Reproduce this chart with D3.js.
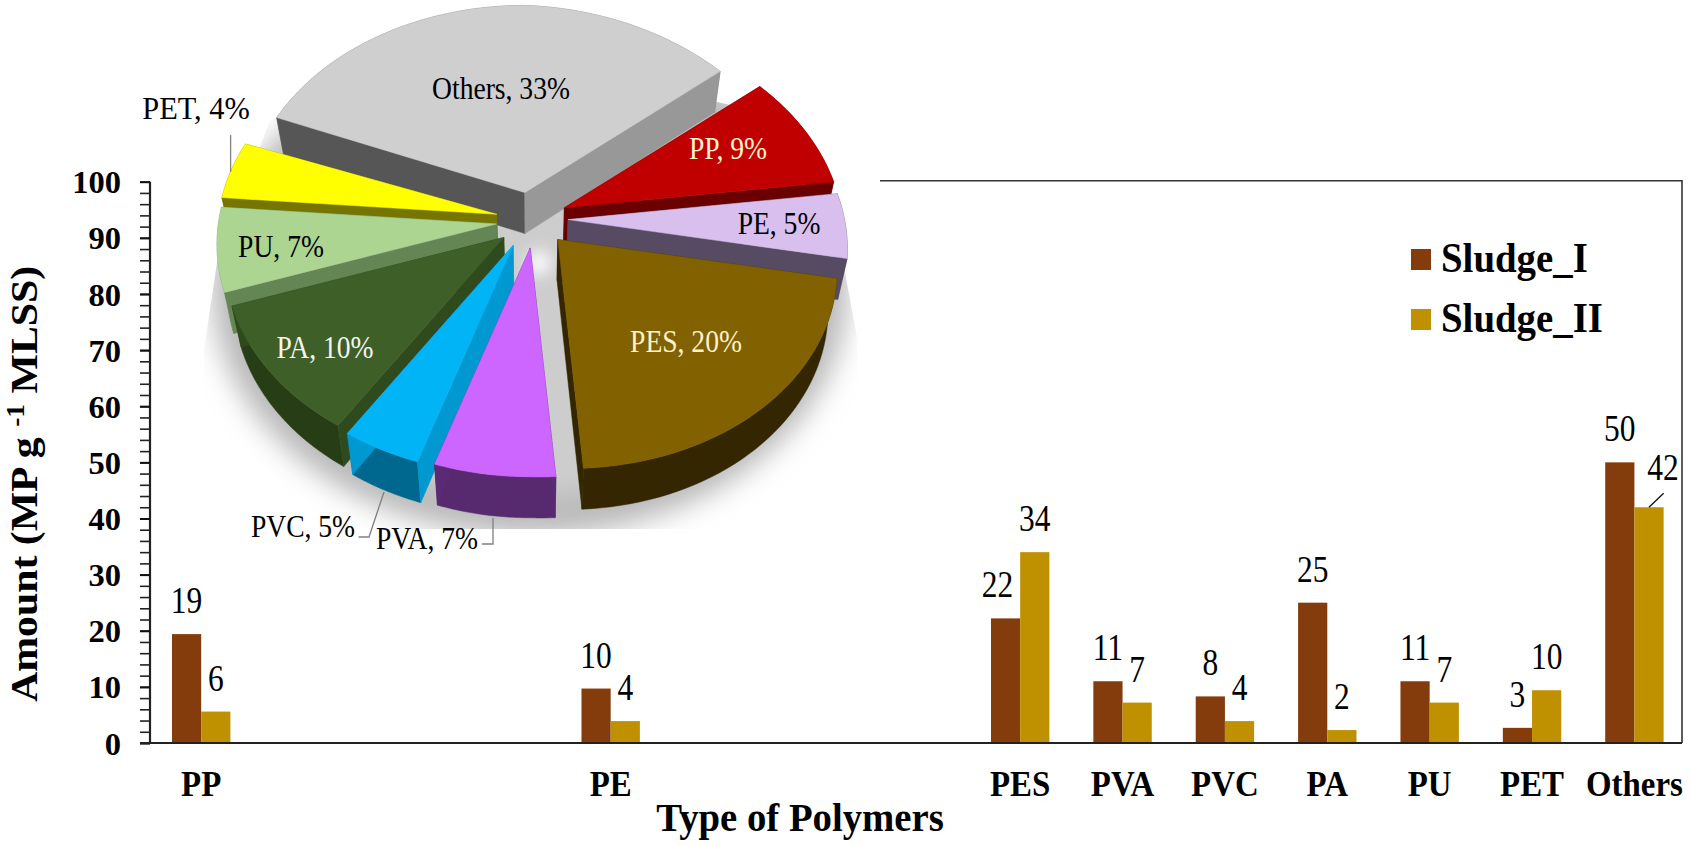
<!DOCTYPE html>
<html>
<head>
<meta charset="utf-8">
<script src="https://cdn.jsdelivr.net/npm/d3@7/dist/d3.min.js"></script>
<style>
html,body{margin:0;padding:0;background:#fff;overflow:hidden}
text{font-family:"Liberation Serif","Times New Roman",serif;fill:#000}
</style>
</head>
<body>
<svg id="c" width="1692" height="846"></svg>
<script>
// ---------- data ----------
const categories = ["PP","PE","PES","PVA","PVC","PA","PU","PET","Others"];
const categorySlots = [0,4,8,9,10,11,12,13,14];
const slotCount = 15;
const sludgeI  = [19.4, 9.7, 22.2, 11, 8.3, 25, 11, 2.7, 50];
const sludgeII = [5.6, 3.9, 34, 7.2, 3.9, 2.3, 7.2, 9.4, 42];
const labelsI  = ["19","10","22","11","8","25","11","3","50"];
const labelsII = ["6","4","34","7","4","2","7","10","42"];
const seriesNames = ["Sludge_I","Sludge_II"];
const yTicks = [0,10,20,30,40,50,60,70,80,90,100];
const yMinorTicks = d3.range(0,101,2);
const pieNames  = ["Others","PP","PE","PES","PVA","PVC","PA","PU","PET"];
const pieValues = [33,9,5,20,7,5,10,7,4];

// ---------- style / layout ----------
const svg = d3.select("#c");
const seriesColor = ["#843c0c","#bf9000"];
const plot = {l:150,r:1682,bandR:1685.6,t:181.7,b:743,frameStart:880};
const sliceStyle = {
  Others:{top:"#d0cfd0",start:"#565656",end:"#999899",outer:"#777",text:"#000",lx:501,ly:99},
  PP:{top:"#c00000",start:"#6b0000",end:"#6b0000",outer:"#6b0000",text:"#fff2cc",lx:728,ly:159},
  PE:{top:"#d8bfee",start:"#564b63",end:"#564b63",outer:"#564b63",text:"#000",lx:779,ly:234},
  PES:{top:"#826100",start:"#332600",end:"#332600",outer:"#332600",text:"#fff2cc",lx:686,ly:352},
  PVA:{top:"#cc66ff",start:"#5a2a75",end:"#5a2a75",outer:"#572a70",text:"#000",lx:427,ly:549},
  PVC:{top:"#00b4f6",start:"#0098d0",end:"#0098d0",outer:"#00688f",text:"#000",lx:303,ly:537,dx:-4},
  PA:{top:"#3e5f27",start:"#2f4a1d",end:"#2f4a1d",outer:"#263d15",text:"#f5f5f0",lx:325,ly:358},
  PU:{top:"#acd591",start:"#648554",end:"#648554",outer:"#7a9a68",text:"#000",lx:281,ly:257},
  PET:{top:"#ffff00",start:"#757500",end:"#757500",outer:"#757500",text:"#000",lx:196,ly:119,sx:0.98}
};
const paintOrder = ["Others","PP","PET","PU","PE","PA","PES","PVC","PVA"];
const pieGeom = {cx:532,cy:220,rx:278,ry:208,persp:0.1,ex:36,ey:28,depth:41,shrink:0.97,start:-71,tilt:9};
// correction of the drawn perspective, degrees of picture angle against true slice angle
const angleWarp = d3.scaleLinear()
  .domain([-71,48,80,100,170,195,213,249,275,289])
  .range([3,1,0,0,5,3,0,2,0,1.5]);

function label(g,str,x,y,size,opt={}){
  return g.append("text").text(str)
    .attr("transform",`translate(${x},${y}) scale(${opt.sx||1},1)`)
    .attr("text-anchor",opt.anchor||"middle")
    .attr("font-size",size)
    .attr("font-weight",opt.bold?"bold":"normal")
    .style("fill",opt.fill||"#000");
}

// ---------- scales ----------
const xSlot = d3.scaleBand().domain(d3.range(slotCount)).range([plot.l,plot.bandR]);
const y = d3.scaleLinear().domain([0,100]).range([plot.b,plot.t]);
const barW = 29.2;

// ---------- frame ----------
svg.append("path")
  .attr("d",`M${plot.frameStart},${plot.t-1}H${plot.r}V${plot.b}`)
  .attr("fill","none").attr("stroke","#333").attr("stroke-width",1.6);

// ---------- bars ----------
const rows = categories.map((c,i)=>({c,slot:categorySlots[i],a:sludgeI[i],b:sludgeII[i],la:labelsI[i],lb:labelsII[i]}));
const barG = svg.append("g");
rows.forEach(r=>{
  const mid = xSlot(r.slot)+xSlot.bandwidth()/2;
  barG.append("rect").attr("x",mid-barW).attr("width",barW).attr("y",y(r.a)).attr("height",y(0)-y(r.a)).attr("fill",seriesColor[0]);
  barG.append("rect").attr("x",mid).attr("width",barW).attr("y",y(r.b)).attr("height",y(0)-y(r.b)).attr("fill",seriesColor[1]);
  const nudgeA = r.c==="PES"?-8:0;
  const nudgeB = r.c==="Others"?14:0;
  const gapB = r.c==="Others"?27:21;
  label(barG,r.la,mid-barW/2+nudgeA,y(r.a)-21,37,{sx:0.85});
  label(barG,r.lb,mid+barW/2+nudgeB,y(r.b)-gapB,37,{sx:0.85});
  label(barG,r.c,mid,796,35,{bold:true,sx:0.94});
  if(r.c==="Others"){
    barG.append("line").attr("x1",mid+barW/2).attr("y1",y(r.b)).attr("x2",mid+barW).attr("y2",y(r.b)-14)
      .attr("stroke","#111").attr("stroke-width",1.3);
  }
});

// ---------- axes ----------
const axG = svg.append("g").attr("transform",`translate(${plot.l},0)`);
const minorAxis = d3.axisLeft(y).tickValues(yMinorTicks).tickSize(10).tickFormat("");
const majorAxis = d3.axisLeft(y).tickValues(yTicks).tickSize(10).tickPadding(19);
axG.append("g").call(minorAxis).call(g=>{g.select(".domain").remove();g.selectAll("line").attr("stroke","#222").attr("stroke-width",1.6)});
axG.append("g").call(majorAxis).call(g=>{
  g.select(".domain").attr("stroke","#222").attr("stroke-width",2.2).attr("d",`M0,${plot.t}V${plot.b}`);
  g.selectAll("line").attr("stroke","#111").attr("stroke-width",2);
  g.selectAll("text").attr("font-size",32.5).attr("font-weight","bold").attr("dy",".34em").style("font-family",'"Liberation Serif"').style("fill","#000");
});
svg.append("line").attr("x1",140).attr("x2",plot.r).attr("y1",plot.b).attr("y2",plot.b).attr("stroke","#222").attr("stroke-width",2.2);

// ---------- axis titles ----------
label(svg,"Type of Polymers",800,831,41,{bold:true,sx:0.945});
const yt = svg.append("text").attr("transform","translate(37,702) rotate(-90) scale(1.1,1)").attr("font-size",38).attr("font-weight","bold").attr("text-anchor","start");
yt.append("tspan").text("Amount (MP g ");
yt.append("tspan").text("-1").attr("font-size",25).attr("dy",-13);
yt.append("tspan").text(" MLSS)").attr("dy",13);

// ---------- legend ----------
const lg = svg.append("g");
seriesNames.forEach((n,i)=>{
  const ty = [272,332][i];
  lg.append("rect").attr("x",1411).attr("y",ty-23).attr("width",20).attr("height",21).attr("fill",seriesColor[i]);
  label(lg,n,1441,ty,42,{bold:true,anchor:"start",sx:0.925});
});

// ---------- 3D pie ----------
const defs = svg.append("defs");
defs.append("filter").attr("id","blurA").attr("x","-20%").attr("y","-20%").attr("width","140%").attr("height","140%")
  .append("feGaussianBlur").attr("stdDeviation",14);
defs.append("filter").attr("id","blurB").attr("x","-100%").attr("y","-100%").attr("width","300%").attr("height","300%")
  .append("feGaussianBlur").attr("stdDeviation",8);
defs.append("clipPath").attr("id","shClip").append("polygon")
  .attr("points","217,262 204,350 204,529 860,529 857,337 843,262 800,120 525,60 270,120");

const pieG = svg.append("g");
const shG = pieG.append("g").attr("clip-path","url(#shClip)");
shG.append("ellipse").attr("cx",530).attr("cy",288).attr("rx",318).attr("ry",248).attr("fill","#b8b8b8").attr("filter","url(#blurA)");
shG.append("ellipse").attr("cx",530).attr("cy",288).attr("rx",270).attr("ry",210).attr("fill","#cdcdcd").attr("filter","url(#blurA)");
pieG.append("circle").attr("cx",539).attr("cy",263).attr("r",12).attr("fill","#fff").attr("filter","url(#blurB)");

const pieGen = d3.pie().sort(null).value(d=>d.v)
  .startAngle(pieGeom.start*Math.PI/180).endAngle((pieGeom.start+360)*Math.PI/180);
const arcs = pieGen(pieNames.map((n,i)=>({n,v:pieValues[i]})));
const G = pieGeom;
function project(a0,r,offx,offy,bottom){
  const deg=a0*180/Math.PI;
  const a=(deg+angleWarp(deg))*Math.PI/180;
  const u=r*Math.sin(a), v=-r*Math.cos(a), s=1+G.persp*v;
  let px=G.cx+offx+G.rx*u*s, py=G.cy+offy+G.ry*v*s+G.tilt*Math.max(u,0);
  if(bottom){ px=G.cx+(px-G.cx)*G.shrink; py+=G.depth; }
  return [px,py];
}
const line = d3.line();
function arcPts(d,ox,oy,bottom){
  const n=40;
  return d3.range(n+1).map(i=>project(d.startAngle+(d.endAngle-d.startAngle)*i/n,1,ox,oy,bottom));
}
paintOrder.forEach(name=>{
  const d=arcs.find(x=>x.data.n===name), st=sliceStyle[name];
  const mid=(d.startAngle+d.endAngle)/2;
  const ox=G.ex*Math.sin(mid)+(st.dx||0), oy=-G.ey*Math.cos(mid);
  const top=arcPts(d,ox,oy,false), bot=arcPts(d,ox,oy,true);
  const apexT=project(0,0,ox,oy,false), apexB=project(0,0,ox,oy,true);
  const g=pieG.append("g").attr("class","slice");
  const wall=(pts,c)=>g.append("path").attr("d",line(pts)+"Z").attr("fill",c).attr("stroke",c).attr("stroke-width",.5);
  wall([...top,...bot.slice().reverse()],st.outer);
  wall([apexT,top[0],bot[0],apexB],st.start);
  wall([apexT,top[top.length-1],bot[bot.length-1],apexB],st.end);
  g.append("path").attr("d",line([apexT,...top])+"Z").attr("fill",st.top).attr("stroke",st.top).attr("stroke-width",.5);
});

// ---------- pie labels + leaders ----------
const leaders = [
  [[230.6,135],[230.6,172]],
  [[358.6,537],[369,537],[384,492]],
  [[482,544],[493,544],[493,518]]
];
leaders.forEach(p=>pieG.append("path").attr("d",line(p)).attr("fill","none").attr("stroke","#808080").attr("stroke-width",1.3));
arcs.forEach(d=>{
  const n=d.data.n, st=sliceStyle[n];
  label(pieG,`${n}, ${d.data.v}%`,st.lx,st.ly,31,{sx:st.sx||0.89,fill:st.text});
});
</script>
</body>
</html>
